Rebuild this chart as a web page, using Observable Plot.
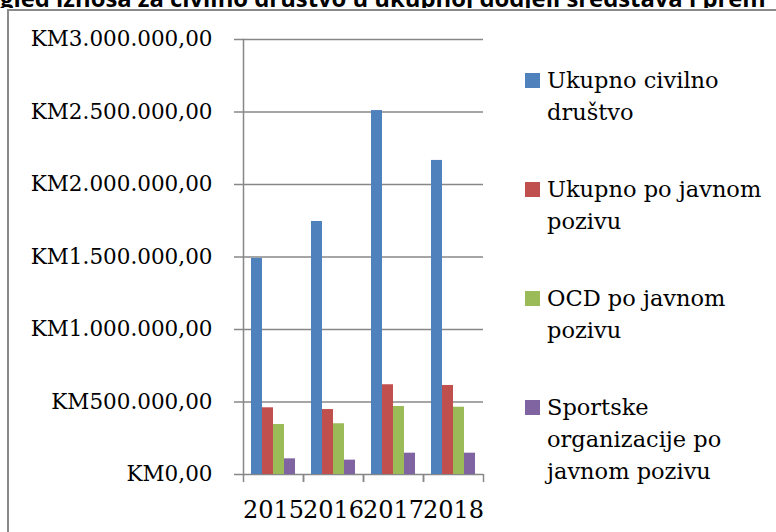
<!DOCTYPE html>
<html><head><meta charset="utf-8">
<script src="https://cdn.jsdelivr.net/npm/d3@7"></script>
<script src="https://cdn.jsdelivr.net/npm/@observablehq/plot@0.6"></script>
<style>
body{margin:0;background:#fff;}
#wrap{position:relative;width:776px;height:532px;overflow:hidden;background:#fff;}
#title{position:absolute;left:0;top:0;}
#box{position:absolute;left:7px;top:9px;width:1000px;height:1000px;border:2px solid #8a8a8a;background:#fff;box-sizing:border-box;}
#chart{position:absolute;left:0;top:0;}
#legend{position:absolute;left:525px;top:64px;display:flex;flex-direction:column;gap:45px;font-family:"DejaVu Serif";font-size:22.5px;line-height:32px;color:#000;}
.item{display:flex;align-items:flex-start;}
.sw{width:15px;height:15px;margin-top:9px;margin-right:7px;flex:none;}
.lab{width:225px;}
</style></head>
<body>
<div id="wrap"><svg id="title" width="776" height="8"></svg><div id="box"></div><div id="chart"></div><div id="legend"></div></div>
<script>
const titleText = "Pregled iznosa za civilno društvo u ukupnoj dodjeli sredstava i prem";
const years = ["2015", "2016", "2017", "2018"];
const series = ["Ukupno civilno društvo", "Ukupno po javnom pozivu", "OCD po javnom pozivu", "Sportske organizacije po javnom pozivu"];
const colors = ["#4F81BD", "#C0504D", "#9BBB59", "#8064A2"];
const ukupnoCivilno = [1490000, 1745000, 2510000, 2166000];
const ukupnoJavni = [460000, 448000, 619000, 614000];
const ocdJavni = [345000, 350000, 469000, 464000];
const sportJavni = [108000, 99000, 147000, 147000];
const yTicks = [0, 500000, 1000000, 1500000, 2000000, 2500000, 3000000];

const valuesBySeries = [ukupnoCivilno, ukupnoJavni, ocdJavni, sportJavni];
const rows = years.flatMap((yr, i) => series.map((s, k) => ({year: yr, series: s, value: valuesBySeries[k][i]})));

const fmt = d3.formatLocale({decimal: ",", thousands: ".", grouping: [3], currency: ["KM", ""]}).format("$,.2f");

// Title (clipped at the top as in the reference)
{
  const c = document.createElement("canvas").getContext("2d");
  c.font = 'bold 100px "Open Sans"';
  const visible = titleText.slice(3);
  const f = 100 * 766 / c.measureText(visible).width;
  c.font = `bold ${f}px "Open Sans"`;
  const pre = c.measureText(titleText.slice(0, 3)).width;
  const svg = d3.select("#title");
  svg.append("text").attr("x", -pre).attr("y", 7)
    .attr("font-family", "Open Sans").attr("font-weight", 700).attr("font-size", f)
    .attr("fill", "#000").text(titleText);
}

const gray = "#878787";
const chart = Plot.plot({
  width: 776,
  height: 532,
  marginLeft: 243,
  marginRight: 293,
  marginTop: 39,
  marginBottom: 58,
  style: {background: "transparent", fontFamily: "DejaVu Serif", color: "#000", overflow: "visible"},
  fx: {domain: years, padding: 0, round: false, label: null},
  x: {domain: series, paddingInner: 0, paddingOuter: 0.727, round: false, axis: null},
  y: {domain: [0, 3000000], label: null},
  color: {domain: series, range: colors},
  marks: [
    Plot.gridY(yTicks, {stroke: gray, strokeOpacity: 1, strokeWidth: 1.5}),
    Plot.barY(rows, {fx: "year", x: "series", y: "value", fill: "series"}),
    Plot.axisY(yTicks, {tickSize: 9, tickPadding: 22, fontSize: 21.5, stroke: gray, strokeWidth: 1.5, tickFormat: fmt, label: null}),
    Plot.frame({anchor: "left", facetAnchor: "left", stroke: gray, strokeWidth: 1.5}),
    Plot.axisFx({anchor: "bottom", tickSize: 0, tickPadding: 26, fontSize: 24, label: null}),
    Plot.axisFx({anchor: "bottom", text: null, tickSize: 8, dx: -30, stroke: gray, strokeWidth: 1.5, label: null}),
    Plot.axisFx({anchor: "bottom", text: null, tickSize: 8, dx: 30, stroke: gray, strokeWidth: 1.5, label: null})
  ]
});
document.getElementById("chart").appendChild(chart);

// Legend
const legend = d3.select("#legend");
series.forEach((s, k) => {
  const item = legend.append("div").attr("class", "item");
  item.append("div").attr("class", "sw").style("background", colors[k]);
  item.append("div").attr("class", "lab").text(s);
});
</script>
</body></html>
